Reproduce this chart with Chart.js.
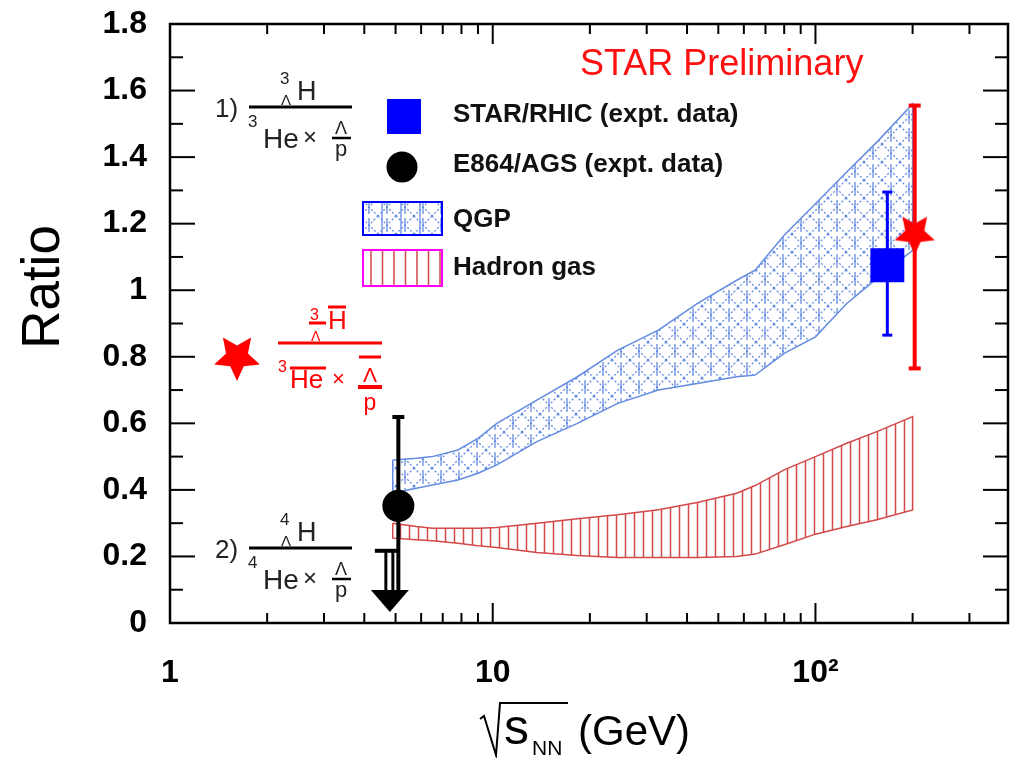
<!DOCTYPE html>
<html>
<head>
<meta charset="utf-8">
<script src="https://cdn.jsdelivr.net/npm/chart.js@4.4.0/dist/chart.umd.min.js"></script>
<style>
  html, body { margin: 0; padding: 0; background: #fff; }
  #wrap { width: 1032px; height: 758px; }
</style>
</head>
<body>
<div id="wrap"><canvas id="ratioChart" width="1032" height="758"></canvas></div>
<script>
// Model bands (sqrt(s_NN) in GeV)
const bandX = [4.9, 5.8, 6.5, 7.8, 9, 10.3, 13.7, 18.3, 24.4, 32.6, 43, 57, 65, 80, 100, 125, 155, 200];
const qgpHigh = [0.49, 0.495, 0.50, 0.52, 0.555, 0.60, 0.67, 0.74, 0.82, 0.88, 0.96, 1.03, 1.06, 1.165, 1.26, 1.355, 1.445, 1.56];
const qgpLow = [0.39, 0.405, 0.415, 0.43, 0.45, 0.475, 0.545, 0.60, 0.66, 0.70, 0.72, 0.74, 0.745, 0.81, 0.86, 0.96, 1.035, 1.12];
const hadronHigh = [0.30, 0.29, 0.285, 0.285, 0.285, 0.287, 0.30, 0.313, 0.325, 0.34, 0.362, 0.39, 0.413, 0.46, 0.50, 0.54, 0.575, 0.62];
const hadronLow = [0.255, 0.25, 0.247, 0.24, 0.232, 0.227, 0.212, 0.203, 0.197, 0.197, 0.197, 0.20, 0.207, 0.235, 0.267, 0.29, 0.31, 0.34];

// Measurements
const starRhicX = [167];
const starRhicY = [1.075];
const starRhicLo = [0.865];
const starRhicHi = [1.295];

const antiX = [203];
const antiY = [1.17];
const antiLo = [0.765];
const antiHi = [1.555];

const e864X = [5.1];
const e864Y = [0.352];
const e864Lo = [0.09];
const e864Hi = [0.619];

// upper limit for the A=4 ratio
const limitX = [4.8];
const limitY = [0.217];
const limitTip = [0.033];

// Tick labels
const xLabelValues = [1, 10, 100];
const xLabelText = ['1', '10', '10\u00B2'];

const FONT = '"Liberation Sans", Arial, Helvetica, sans-serif';
const QGP_BLUE = 'rgb(100,140,225)';
const HADRON_RED = 'rgb(212,72,72)';

function points(xs, ys) {
  return xs.map((x, i) => ({ x: x, y: ys[i] }));
}

// closed outline: upper edge forward, lower edge back
function bandOutline(xs, hi, lo) {
  const pts = points(xs, hi);
  for (let i = xs.length - 1; i >= 0; i--) pts.push({ x: xs[i], y: lo[i] });
  pts.push({ x: xs[0], y: hi[0] });
  return pts;
}

function makeStar(r, color) {
  const c = document.createElement('canvas');
  c.width = c.height = Math.ceil(r * 2 + 2);
  const g = c.getContext('2d');
  g.translate(c.width / 2, c.height / 2);
  g.beginPath();
  for (let i = 0; i < 10; i++) {
    const rad = i % 2 === 0 ? r : r * 0.48;
    const a = Math.PI / 2 + i * Math.PI / 5;
    g.lineTo(rad * Math.cos(a), rad * Math.sin(a));
  }
  g.closePath();
  g.fillStyle = color;
  g.fill();
  return c;
}

function qgpPattern(ctx) {
  const c = document.createElement('canvas');
  c.width = 18; c.height = 18;
  const g = c.getContext('2d');
  g.strokeStyle = QGP_BLUE;
  g.lineWidth = 1.3;
  g.beginPath(); g.moveTo(9, 2); g.lineTo(9, 16); g.stroke();
  g.setLineDash([2, 2]);
  g.beginPath();
  g.moveTo(0, 0); g.lineTo(18, 18);
  g.moveTo(18, 0); g.lineTo(0, 18);
  g.stroke();
  return ctx.createPattern(c, 'repeat');
}

function hadronPattern(ctx) {
  const c = document.createElement('canvas');
  c.width = 9; c.height = 4;
  const g = c.getContext('2d');
  g.strokeStyle = HADRON_RED;
  g.lineWidth = 1.5;
  g.beginPath(); g.moveTo(4.5, 0); g.lineTo(4.5, 4); g.stroke();
  return ctx.createPattern(c, 'repeat');
}

function txt(ctx, s, x, y, size, color, opts) {
  opts = opts || {};
  ctx.font = (opts.weight || 'normal') + ' ' + size + 'px ' + FONT;
  ctx.fillStyle = color;
  ctx.textAlign = opts.align || 'left';
  ctx.textBaseline = 'alphabetic';
  ctx.fillText(s, x, y);
}

function bar(ctx, x1, y1, x2, y2, w, color) {
  ctx.strokeStyle = color;
  ctx.lineWidth = w;
  ctx.beginPath(); ctx.moveTo(x1, y1); ctx.lineTo(x2, y2); ctx.stroke();
}

function errorBars(ctx, xs, ys, xv, lo, hi, color, w, cap) {
  xv.forEach((v, i) => {
    const px = xs.getPixelForValue(v);
    const pl = ys.getPixelForValue(lo[i]);
    const ph = ys.getPixelForValue(hi[i]);
    bar(ctx, px, pl, px, ph, w, color);
    bar(ctx, px - cap, ph, px + cap, ph, w, color);
    bar(ctx, px - cap, pl, px + cap, pl, w, color);
  });
}

// fraction of the type  A_Lambda H / (A He x Lambda/p)
function hyperFraction(ctx, dy, a, color) {
  txt(ctx, a === '3' ? '1)' : '2)', 215, 117 + dy, 26, color);
  txt(ctx, a, 280, 84 + dy, 17, color);
  txt(ctx, '\u039B', 281, 105 + dy, 15, color);
  txt(ctx, 'H', 297, 100 + dy, 27, color);
  bar(ctx, 249, 107 + dy, 352, 107 + dy, 3, '#000');
  txt(ctx, a, 248, 127 + dy, 17, color);
  txt(ctx, 'He', 263, 148 + dy, 28, color);
  txt(ctx, '\u00D7', 303, 145 + dy, 24, color);
  txt(ctx, '\u039B', 341, 134 + dy, 18, color, { align: 'center' });
  bar(ctx, 332, 138 + dy, 351, 138 + dy, 2.5, '#000');
  txt(ctx, 'p', 341, 156 + dy, 22, color, { align: 'center' });
}

const decorPlugin = {
  id: 'decor',
  afterDatasetsDraw(chart) {
    const ctx = chart.ctx;
    const xs = chart.scales.x, ys = chart.scales.y;
    const a = chart.chartArea;
    ctx.save();
    ctx.lineCap = 'butt';

    // error bars
    errorBars(ctx, xs, ys, starRhicX, starRhicLo, starRhicHi, '#0000ff', 3, 5);
    errorBars(ctx, xs, ys, antiX, antiLo, antiHi, '#ff0000', 4, 6);
    e864X.forEach((v, i) => {
      const px = xs.getPixelForValue(v);
      const ph = ys.getPixelForValue(e864Hi[i]);
      bar(ctx, px, ys.getPixelForValue(e864Lo[i]), px, ph, 4, '#000');
      bar(ctx, px - 6, ph, px + 6, ph, 4, '#000');
    });

    // upper-limit arrow
    limitX.forEach((v, i) => {
      const px = xs.getPixelForValue(v);
      const py = ys.getPixelForValue(limitY[i]);
      const tip = ys.getPixelForValue(limitTip[i]);
      const base = tip - 22;
      bar(ctx, px - 15, py, px + 10, py, 4, '#000');
      bar(ctx, px - 4, py, px - 4, base, 3, '#000');
      bar(ctx, px + 3, py, px + 3, base, 3, '#000');
      ctx.fillStyle = '#000';
      ctx.beginPath();
      ctx.moveTo(px - 19, base); ctx.lineTo(px + 19, base); ctx.lineTo(px, tip);
      ctx.closePath(); ctx.fill();
    });

    // frame
    ctx.strokeStyle = '#000';
    ctx.lineWidth = 2.5;
    ctx.strokeRect(a.left, a.top, a.right - a.left, a.bottom - a.top);

    // x ticks (inward, top and bottom)
    xs.ticks.forEach(t => {
      const v = t.value;
      if (v <= xs.min || v >= xs.max) return;
      const lg = Math.log10(v);
      const sig = v / Math.pow(10, Math.floor(lg + 1e-9));
      if (Math.abs(sig - Math.round(sig)) > 1e-6) return;
      const len = Math.abs(lg - Math.round(lg)) < 1e-6 ? 20 : 10;
      const px = xs.getPixelForValue(v);
      bar(ctx, px, a.bottom, px, a.bottom - len, 2, '#000');
      bar(ctx, px, a.top, px, a.top + len, 2, '#000');
    });

    // y ticks, major from the scale and minor half way between
    const yt = ys.ticks.map(t => t.value);
    yt.forEach((v, i) => {
      const py = ys.getPixelForValue(v);
      if (v > ys.min && v < ys.max) {
        bar(ctx, a.left, py, a.left + 25, py, 2, '#000');
        bar(ctx, a.right, py, a.right - 25, py, 2, '#000');
      }
      if (i < yt.length - 1) {
        const pm = ys.getPixelForValue((v + yt[i + 1]) / 2);
        bar(ctx, a.left, pm, a.left + 13, pm, 2, '#000');
        bar(ctx, a.right, pm, a.right - 13, pm, 2, '#000');
      }
    });

    // axis titles
    ctx.save();
    ctx.translate(44, 287);
    ctx.rotate(-Math.PI / 2);
    ctx.font = '53px ' + FONT;
    ctx.fillStyle = '#000';
    ctx.textAlign = 'center';
    ctx.textBaseline = 'middle';
    ctx.fillText('Ratio', 0, 0);
    ctx.restore();

    ctx.strokeStyle = '#000';
    ctx.lineWidth = 2;
    ctx.beginPath();
    ctx.moveTo(480, 719); ctx.lineTo(484, 716); ctx.lineTo(496, 755);
    ctx.lineTo(500, 703); ctx.lineTo(568, 703);
    ctx.stroke();
    txt(ctx, 's', 504, 744, 50, '#000');
    txt(ctx, 'NN', 532, 755, 21, '#000');
    txt(ctx, '(GeV)', 578, 745, 42, '#000');

    // STAR Preliminary
    txt(ctx, 'STAR Preliminary', 580, 75, 36, '#ff1010');

    // legend
    ctx.fillStyle = '#0000ff';
    ctx.fillRect(387, 99, 34, 35);
    ctx.fillStyle = '#000';
    ctx.beginPath(); ctx.arc(402, 167, 15.5, 0, Math.PI * 2); ctx.fill();
    ctx.fillStyle = qgpPattern(ctx);
    ctx.fillRect(363, 202, 79, 33);
    [382, 401, 420].forEach(x => bar(ctx, x, 202, x, 235, 1.3, QGP_BLUE));
    ctx.strokeStyle = '#0000ff';
    ctx.lineWidth = 2;
    ctx.strokeRect(363, 202, 79, 33);
    for (let x = 371; x < 442; x += 11.5) bar(ctx, x, 250, x, 286, 1.5, HADRON_RED);
    ctx.strokeStyle = '#ff00ff';
    ctx.lineWidth = 2;
    ctx.strokeRect(363, 250, 79, 36);

    txt(ctx, 'STAR/RHIC (expt. data)', 453, 122, 26, '#111', { weight: 'bold' });
    txt(ctx, 'E864/AGS (expt. data)', 453, 172, 26, '#111', { weight: 'bold' });
    txt(ctx, 'QGP', 453, 227, 26, '#111', { weight: 'bold' });
    txt(ctx, 'Hadron gas', 453, 275, 26, '#111', { weight: 'bold' });

    // formula labels
    hyperFraction(ctx, 0, '3', '#222');
    hyperFraction(ctx, 441, '4', '#222');

    // anti-hypertriton key
    const keyStar = makeStar(24, '#ff0000');
    ctx.drawImage(keyStar, 237 - keyStar.width / 2, 357 - keyStar.height / 2);
    const red = '#ff0000';
    txt(ctx, '3', 310, 320, 16, red);
    bar(ctx, 309, 323, 326, 323, 3, red);
    txt(ctx, '\u039B', 311, 341, 14, red);
    txt(ctx, 'H', 328, 329, 26, red);
    bar(ctx, 328, 307, 346, 307, 3, red);
    bar(ctx, 278, 343, 382, 343, 3, red);
    txt(ctx, '3', 278, 372, 16, red);
    txt(ctx, 'He', 290, 388, 26, red);
    bar(ctx, 290, 368, 326, 368, 3, red);
    txt(ctx, '\u00D7', 332, 386, 22, red);
    bar(ctx, 359, 357, 381, 357, 3, red);
    txt(ctx, '\u039B', 370, 382, 21, red, { align: 'center' });
    bar(ctx, 358, 387, 382, 387, 4, red);
    txt(ctx, 'p', 370, 410, 23, red, { align: 'center' });

    ctx.restore();
  }
};

// keep Chart.js from adding label overhang to the chart area
function noPad(s) {
  s.paddingTop = 0; s.paddingBottom = 0; s.paddingLeft = 0; s.paddingRight = 0;
}

document.addEventListener('DOMContentLoaded', () => {
  const canvas = document.getElementById('ratioChart');
  const ctx = canvas.getContext('2d');

  const chart = new Chart(ctx, {
    type: 'scatter',
    data: {
      datasets: [
        {
          label: 'E864/AGS (expt. data)',
          data: points(e864X, e864Y),
          pointStyle: 'circle',
          pointRadius: 16,
          backgroundColor: '#000',
          borderColor: '#000',
          borderWidth: 0
        },
        {
          label: 'STAR/RHIC (expt. data)',
          data: points(starRhicX, starRhicY),
          pointStyle: 'rect',
          pointRadius: 24,
          backgroundColor: '#0000ff',
          borderColor: '#0000ff',
          borderWidth: 0
        },
        {
          label: 'anti-hypertriton ratio',
          data: points(antiX, antiY),
          pointStyle: makeStar(21, '#ff0000'),
          pointRadius: 21
        },
        {
          label: 'Hadron gas',
          data: bandOutline(bandX, hadronHigh, hadronLow),
          showLine: true,
          fill: 'shape',
          backgroundColor: hadronPattern(ctx),
          borderColor: HADRON_RED,
          borderWidth: 1.5,
          pointRadius: 0,
          tension: 0
        },
        {
          label: 'QGP',
          data: bandOutline(bandX, qgpHigh, qgpLow),
          showLine: true,
          fill: 'shape',
          backgroundColor: qgpPattern(ctx),
          borderColor: QGP_BLUE,
          borderWidth: 1.5,
          pointRadius: 0,
          tension: 0
        }
      ]
    },
    options: {
      responsive: false,
      animation: false,
      events: [],
      layout: { padding: { top: 18, right: 11, left: 0, bottom: 0 } },
      plugins: {
        legend: { display: false },
        tooltip: { enabled: false }
      },
      scales: {
        x: {
          type: 'logarithmic',
          min: 1,
          max: 395,
          grid: { display: false, drawTicks: false },
          border: { display: false },
          ticks: {
            autoSkip: false,
            maxRotation: 0,
            padding: 34,
            color: '#000',
            font: { family: FONT, size: 32, weight: 'bold', lineHeight: 1 },
            callback: (v) => {
              const i = xLabelValues.findIndex(t => Math.abs(t - v) < 1e-6);
              return i >= 0 ? xLabelText[i] : '';
            }
          },
          afterFit: (s) => { s.height = 135; noPad(s); }
        },
        y: {
          min: 0,
          max: 1.8,
          grid: { display: false, drawTicks: false },
          border: { display: false },
          ticks: {
            stepSize: 0.2,
            padding: 23,
            color: '#000',
            font: { family: FONT, size: 32, weight: 'bold', lineHeight: 1 },
            callback: (v) => String(Math.round(v * 10) / 10)
          },
          afterFit: (s) => { s.width = 170; noPad(s); }
        }
      }
    },
    plugins: [decorPlugin]
  });
});
</script>
</body>
</html>
